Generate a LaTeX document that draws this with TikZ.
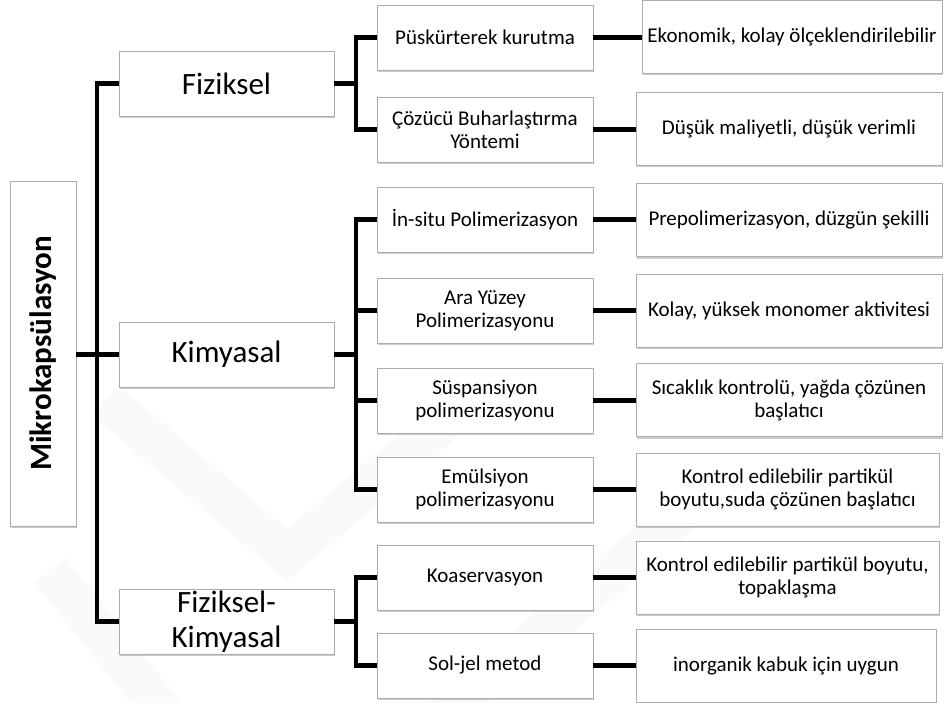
\documentclass[tikz,border=0pt]{standalone}
\usepackage{fontspec}
\setmainfont{Carlito}
\usepackage{graphicx}
\usetikzlibrary{shadows}

\begin{document}
\begin{tikzpicture}[
    x=1pt, y=-1pt,
    box/.style={draw=gray!65, fill=white, line width=0.8pt, inner sep=0pt, outer sep=0pt,
        align=center, drop shadow={shadow xshift=1.2pt, shadow yshift=-2pt, opacity=0.4}},
    main/.style={box, minimum width=215pt, minimum height=65pt, font=\fontsize{31}{35}\selectfont},
    method/.style={box, minimum width=216pt, minimum height=65pt, font=\fontsize{21}{23}\selectfont},
    note/.style={box, anchor=west, minimum width=#1, minimum height=73pt, font=\fontsize{21}{23}\selectfont},
    note/.default=306pt,
    link/.style={line width=4.5pt},
    wmark/.style={gray!4, line width=40pt}
]

    \useasboundingbox (0,0) rectangle (944,703);

    % Watermark
    \draw[wmark] (105,400) -- (287,555) -- (470,400);
    \draw[wmark] (50,570) -- (170,720);
    \draw[wmark] (440,720) -- (720,480);

    % Root
    \node[box, minimum width=66pt, minimum height=345pt] (root) at (43,353.5)
        {\rotatebox{90}{\fontsize{31}{35}\selectfont\bfseries Mikrokapsülasyon}};

    % Level 1
    \node[main] (fiz) at (226.5,83.5) {Fiziksel};
    \node[main] (kim) at (226.5,354.5) {Kimyasal};
    \node[main] (fizkim) at (226.5,621.5) {Fiziksel-\\Kimyasal};

    % Level 2
    \node[method] (pusk) at (485,37.5) {Püskürterek kurutma};
    \node[method] (cozucu) at (485,129.5) {Çözücü Buharlaştırma\\Yöntemi};
    \node[method] (insitu) at (485,219.5) {İn-situ Polimerizasyon};
    \node[method] (ara) at (485,310.5) {Ara Yüzey\\Polimerizasyonu};
    \node[method] (susp) at (485,400.5) {Süspansiyon\\polimerizasyonu};
    \node[method] (emul) at (485,489.5) {Emülsiyon\\polimerizasyonu};
    \node[method] (koas) at (485,577.5) {Koaservasyon};
    \node[method] (soljel) at (485,665.5) {Sol-jel metod};

    % Level 3
    \node[note=300pt] (eko) at (642,37) {Ekonomik, kolay ölçeklendirilebilir};
    \node[note] (dusuk) at (636,129) {Düşük maliyetli, düşük verimli};
    \node[note] (prepol) at (636,220) {Prepolimerizasyon, düzgün şekilli};
    \node[note] (kolay) at (636,310.5) {Kolay, yüksek monomer aktivitesi};
    \node[note] (sicak) at (636,400) {Sıcaklık kontrolü, yağda çözünen\\başlatıcı};
    \node[note=303pt] (kont1) at (636,489.5) {Kontrol edilebilir partikül\\boyutu,suda çözünen başlatıcı};
    \node[note=303pt] (kont2) at (636,577.5) {Kontrol edilebilir partikül boyutu,\\topaklaşma};
    \node[note=300pt] (inorg) at (636,666) {inorganik kabuk için uygun};

    % Joints
    \coordinate (j0) at (97,354.5);
    \coordinate (j1) at (356,83.5);
    \coordinate (j2) at (356,354.5);
    \coordinate (j3) at (356,621.5);

    % Root to level 1
    \draw[link] (root.east |- kim.west) -- (kim.west);
    \draw[link] (fiz.west) -| (j0) |- (fizkim.west);

    % Level 1 to level 2
    \draw[link] (fiz.east) -- (j1);
    \draw[link] (pusk.west) -| (j1) |- (cozucu.west);
    \draw[link] (kim.east) -- (j2);
    \draw[link] (insitu.west) -| (j2) |- (emul.west);
    \draw[link] (ara.west) -- (ara.west -| j2);
    \draw[link] (susp.west) -- (susp.west -| j2);
    \draw[link] (fizkim.east) -- (j3);
    \draw[link] (koas.west) -| (j3) |- (soljel.west);

    % Level 2 to level 3
    \draw[link] (pusk.east) -- (pusk.east -| eko.west);
    \draw[link] (cozucu.east) -- (cozucu.east -| dusuk.west);
    \draw[link] (insitu.east) -- (insitu.east -| prepol.west);
    \draw[link] (ara.east) -- (ara.east -| kolay.west);
    \draw[link] (susp.east) -- (susp.east -| sicak.west);
    \draw[link] (emul.east) -- (emul.east -| kont1.west);
    \draw[link] (koas.east) -- (koas.east -| kont2.west);
    \draw[link] (soljel.east) -- (soljel.east -| inorg.west);

\end{tikzpicture}
\end{document}
